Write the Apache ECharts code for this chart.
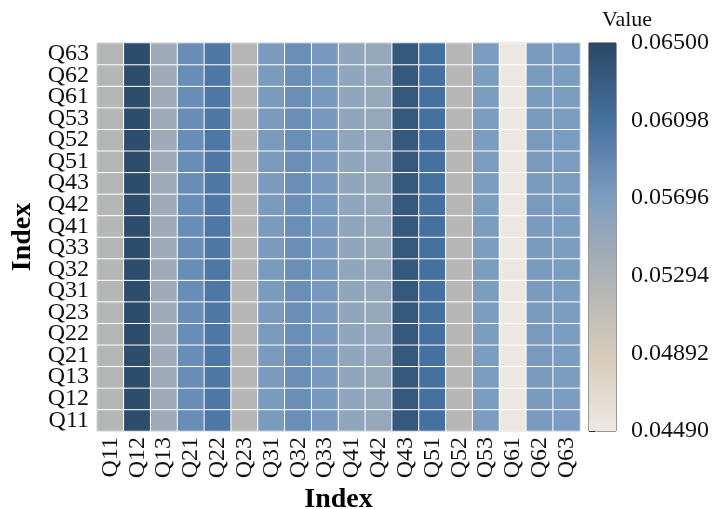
<!DOCTYPE html>
<html>
<head>
<meta charset="utf-8">
<script src="https://cdn.jsdelivr.net/npm/echarts@6/dist/echarts.min.js"></script>
<style>
  html, body { margin: 0; padding: 0; background: #fff; }
  #main { width: 719px; height: 509px; }
</style>
</head>
<body>
<div id="main"></div>
<script>
// index names, used on both axes
const indexNames = ['Q11', 'Q12', 'Q13', 'Q21', 'Q22', 'Q23', 'Q31', 'Q32', 'Q33',
    'Q41', 'Q42', 'Q43', 'Q51', 'Q52', 'Q53', 'Q61', 'Q62', 'Q63'];

// weight of each column index (same for every row)
const columnValues = [0.0522, 0.0646, 0.0542, 0.0584, 0.0604, 0.0521, 0.0572, 0.0583, 0.0573,
    0.0553, 0.0551, 0.0634, 0.0610, 0.0521, 0.0570, 0.0450, 0.0572, 0.0571];

// colour bar
const valueMin = 0.0449;
const valueMax = 0.065;
const barTicks = ['0.04490', '0.04892', '0.05294', '0.05696', '0.06098', '0.06500'];
const barColors = ['#ede9e2', '#d6cab8', '#aeb2b6', '#7d9dc0', '#4571a0', '#2b4866'];

const font = 'Liberation Serif';

const cells = [];
indexNames.forEach((row, j) => {
    indexNames.forEach((col, i) => {
        cells.push([i, j, columnValues[i]]);
    });
});

const gradStops = barColors.map((c, k) => ({ offset: 1 - k / (barColors.length - 1), color: c }));

const chart = echarts.init(document.getElementById('main'));
chart.setOption({
    backgroundColor: '#fff',
    animation: false,
    title: {
        text: 'Value',
        left: 597,
        top: 4,
        textStyle: { fontFamily: font, fontSize: 22, fontWeight: 'normal', color: '#111' }
    },
    grid: [
        { left: 97, right: 139, top: 43, bottom: 78, outerBoundsMode: 'none', show: true, borderColor: '#222', borderWidth: 1, backgroundColor: 'transparent' },
        { left: 589, width: 27, top: 43, bottom: 78, outerBoundsMode: 'none', show: true, borderColor: '#333', borderWidth: 1, backgroundColor: 'transparent' }
    ],
    xAxis: [{
        type: 'category',
        gridIndex: 0,
        data: indexNames,
        name: 'Index',
        nameLocation: 'middle',
        nameGap: 52,
        nameTextStyle: { fontFamily: font, fontSize: 28, fontWeight: 'bold', color: '#000' },
        axisLine: { show: false },
        axisTick: { alignWithLabel: true, length: 5, lineStyle: { color: '#222' } },
        axisLabel: { rotate: 90, fontFamily: font, fontSize: 24, color: '#111', margin: 6, interval: 0 },
        splitLine: { show: false }
    }, {
        type: 'value',
        gridIndex: 1,
        min: 0,
        max: 1,
        show: false
    }],
    yAxis: [{
        type: 'category',
        gridIndex: 0,
        data: indexNames,
        name: 'Index',
        nameLocation: 'middle',
        nameGap: 60,
        nameRotate: 90,
        nameTextStyle: { fontFamily: font, fontSize: 28, fontWeight: 'bold', color: '#000' },
        axisLine: { show: false },
        axisTick: { alignWithLabel: true, length: 5, lineStyle: { color: '#222' } },
        axisLabel: { fontFamily: font, fontSize: 24, color: '#111', margin: 8, interval: 0, lineHeight: 20 },
        splitLine: { show: false }
    }, {
        type: 'value',
        gridIndex: 1,
        position: 'right',
        min: 0,
        max: barTicks.length - 1,
        interval: 1,
        axisLine: { show: false },
        axisTick: { show: true, length: 6, lineStyle: { color: '#333' } },
        axisLabel: {
            fontFamily: font, fontSize: 24, color: '#111', margin: 15,
            formatter: v => barTicks[Math.round(v)]
        },
        splitLine: { show: false }
    }],
    visualMap: {
        show: false,
        type: 'continuous',
        seriesIndex: 0,
        min: valueMin,
        max: valueMax,
        dimension: 2,
        inRange: { color: barColors }
    },
    series: [{
        type: 'heatmap',
        xAxisIndex: 0,
        yAxisIndex: 0,
        data: cells,
        itemStyle: { borderColor: '#fff', borderWidth: 1 }
    }, {
        type: 'custom',
        xAxisIndex: 1,
        yAxisIndex: 1,
        data: [[0, 0, barTicks.length - 1]],
        renderItem: (params, api) => {
            const p0 = api.coord([0, api.value(1)]);
            const p1 = api.coord([1, api.value(2)]);
            return {
                type: 'rect',
                shape: { x: p0[0], y: p1[1], width: p1[0] - p0[0], height: p0[1] - p1[1] },
                style: { fill: new echarts.graphic.LinearGradient(0, 0, 0, 1, gradStops) }
            };
        }
    }]
});
</script>
</body>
</html>
